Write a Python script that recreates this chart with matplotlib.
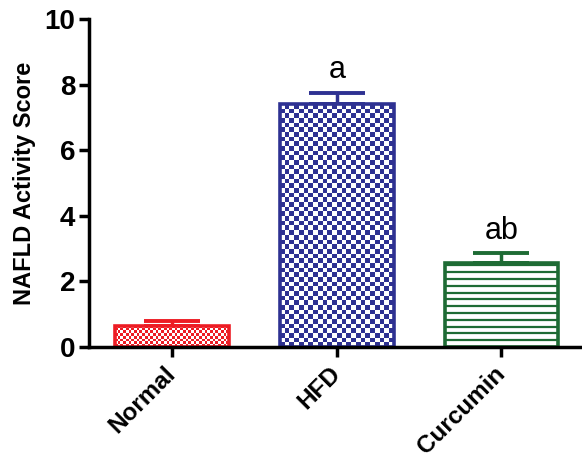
import matplotlib
matplotlib.use('Agg')
import matplotlib.pyplot as plt
import numpy as np

groups = ['Normal', 'HFD', 'Curcumin']
means = [0.65, 7.4, 2.55]
errors = [0.15, 0.35, 0.3]
letters = ['', 'a', 'ab']
colors = ['#ed1c24', '#2e3192', '#1e6b34']
fills = ['checker', 'checker', 'lines']
cell_px = [2.7, 4.7, 6.8]


def bar_pixels(ax, bar):
    (x0, y0), (x1, y1) = ax.transData.transform(
        [[bar.get_x(), bar.get_y()],
         [bar.get_x() + bar.get_width(), bar.get_y() + bar.get_height()]])
    return x1 - x0, y1 - y0


def checker_fill(ax, bar, color, cell):
    w, h = bar_pixels(ax, bar)
    nx = max(1, int(round(w / cell)))
    ny = max(1, int(round(h / cell)))
    board = (np.add.outer(np.arange(ny), np.arange(nx)) % 2).astype(float)
    cmap = matplotlib.colors.ListedColormap(['white', color])
    im = ax.imshow(board, cmap=cmap, interpolation='nearest', aspect='auto',
                   extent=[bar.get_x(), bar.get_x() + bar.get_width(),
                           bar.get_y(), bar.get_y() + bar.get_height()],
                   zorder=1.5)
    im.set_clip_path(bar)


def line_fill(ax, bar, color, step):
    w, h = bar_pixels(ax, bar)
    n = int(h / step)
    ys = bar.get_y() + bar.get_height() * np.arange(1, n + 1) / (h / step)
    lc = ax.hlines(ys, bar.get_x(), bar.get_x() + bar.get_width(),
                   color=color, linewidth=1.6, zorder=1.5)
    lc.set_clip_path(bar)


def main():
    plt.rcParams['font.family'] = ['Liberation Sans', 'DejaVu Sans']

    fig = plt.figure(figsize=(5.82, 4.62), dpi=100)
    ax = fig.add_axes([0.153, 0.249, 0.847, 0.710])

    x = np.arange(len(groups))
    ax.set_xlim(-0.505, 2.49)
    ax.set_ylim(0, 10)

    for i in range(len(groups)):
        c = colors[i]
        ax.errorbar(x[i], means[i], yerr=[[0], [errors[i]]], fmt='none',
                    ecolor=c, elinewidth=2.5, capsize=20, capthick=2.8,
                    zorder=1)
        bar = ax.bar(x[i], means[i], width=0.69, facecolor='white',
                     edgecolor='none', zorder=1.4)[0]
        if fills[i] == 'checker':
            checker_fill(ax, bar, c, cell_px[i])
        else:
            line_fill(ax, bar, c, cell_px[i])
        # outline on top of the texture
        ax.bar(x[i], means[i], width=0.69, facecolor='none',
               edgecolor=c, linewidth=2.6, zorder=2)
        if letters[i]:
            ax.text(x[i], means[i] + errors[i] + 0.45, letters[i],
                    ha='center', va='baseline', fontsize=22)

    ax.spines['top'].set_visible(False)
    ax.spines['right'].set_visible(False)
    for s in ['left', 'bottom']:
        ax.spines[s].set_linewidth(2.5)
    ax.set_yticks(range(0, 11, 2))
    ax.set_xticks(x)
    ax.set_xticklabels(groups, rotation=45, ha='right', va='center',
                       rotation_mode='anchor', fontweight='bold')
    ax.tick_params(axis='both', width=2.5, length=7)
    ax.tick_params(axis='y', labelsize=20, pad=3)
    for lab in ax.get_yticklabels():
        lab.set_fontweight('bold')
    ax.tick_params(axis='x', labelsize=17.5, pad=10)
    ax.set_ylabel('NAFLD Activity Score', fontsize=17, fontweight='bold',
                  labelpad=6)

    fig.savefig('out.png', dpi=100)


if __name__ == '__main__':
    main()
